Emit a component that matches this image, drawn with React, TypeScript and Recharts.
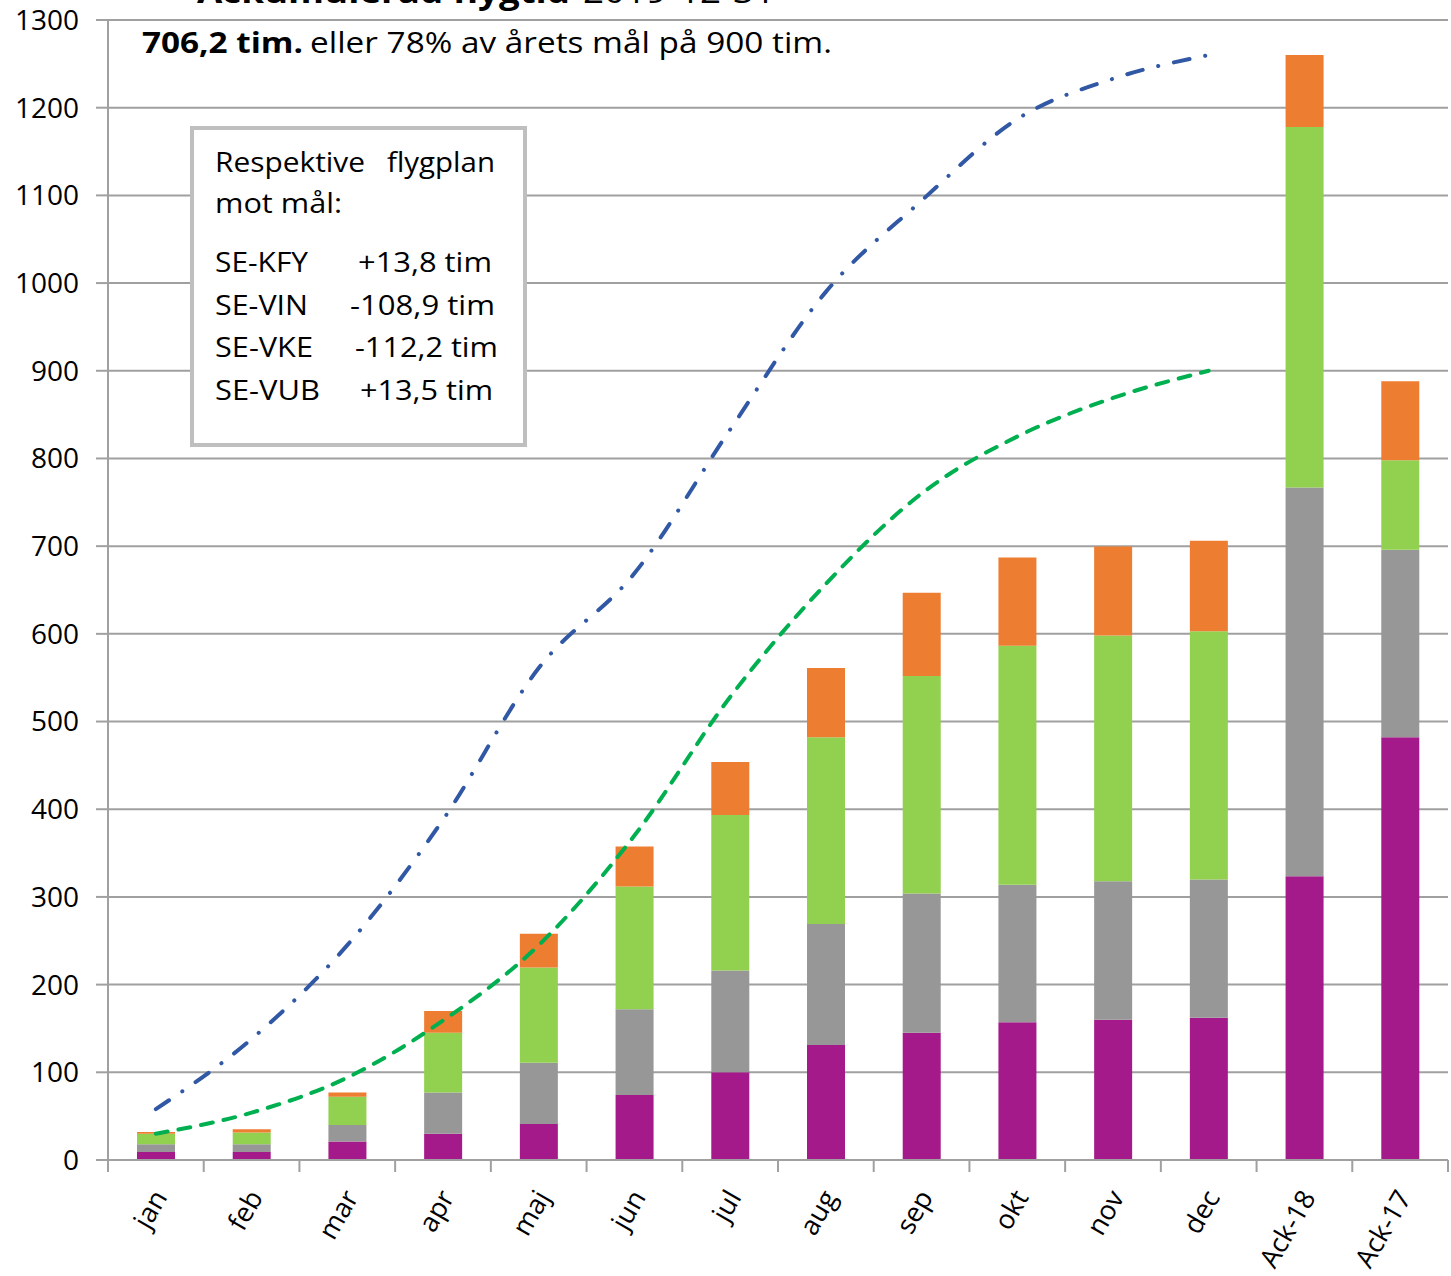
import { ComposedChart, Bar, Line, XAxis, YAxis, CartesianGrid } from 'recharts'

const categories = ['jan', 'feb', 'mar', 'apr', 'maj', 'jun', 'jul', 'aug', 'sep', 'okt', 'nov', 'dec', 'Ack-18', 'Ack-17']

// stacked per aircraft, cumulative hours (bottom to top)
const purpleHours = [9, 9, 21, 30, 41, 74, 100, 131, 145, 157, 160, 162.3, 323.5, 482]
const grayHours = [9, 9, 19, 47, 70, 98, 116, 138, 159, 157, 158, 157.7, 443.5, 214]
const greenHours = [12, 13.5, 32, 68, 108.5, 140, 177.5, 213, 248, 272.5, 280, 283, 411, 102]
const orangeHours = [2, 3.5, 5, 25, 38.5, 45.5, 60.5, 79, 95, 100.5, 101.5, 103.2, 82, 90]

// lines, months only
const ack18Line = [58, 138, 245, 388, 561, 669, 833, 990, 1094, 1187, 1233, 1260, null, null]
const goalLine = [30, 54, 94, 159, 245, 370, 528, 657, 760, 825, 869, 900, null, null]

const yTicks = [0, 100, 200, 300, 400, 500, 600, 700, 800, 900, 1000, 1100, 1200, 1300]

const chartData = categories.map((name, i) => ({
  name,
  purple: purpleHours[i],
  gray: grayHours[i],
  green: greenHours[i],
  orange: orangeHours[i],
  ack18: ack18Line[i],
  goal: goalLine[i],
}))

const W = 1451
const H = 1276
const margin = { top: 20, right: 3, left: 0, bottom: 0 }
const yAxisWidth = 108
const band = (W - margin.right - margin.left - yAxisWidth) / categories.length
const axisColor = '#a0a0a0'
const font = '"Open Sans", "Noto Sans", sans-serif'

function MonthTick(props: any) {
  const { x, y, payload, index } = props
  return (
    <g>
      <line x1={x - band / 2} y1={y} x2={x - band / 2} y2={y + 12} stroke={axisColor} strokeWidth={2} />
      {index === categories.length - 1 && (
        <line x1={x + band / 2} y1={y} x2={x + band / 2} y2={y + 12} stroke={axisColor} strokeWidth={2} />
      )}
      <text
        transform={`translate(${x + 3},${y + 32}) rotate(-60)`}
        textAnchor="end"
        dominantBaseline="central"
        fontSize={27}
        fontFamily={font}
        fill="#000"
      >
        {payload.value}
      </text>
    </g>
  )
}

// text with a fixed width, like the stretched labels in the original
function Fit({ x, y, w, anchor, children, bold }: any) {
  return (
    <text
      x={x}
      y={y}
      textAnchor={anchor || 'start'}
      textLength={w}
      lengthAdjust="spacingAndGlyphs"
      fontWeight={bold ? 'bold' : 'normal'}
    >
      {children}
    </text>
  )
}

export default function App() {
  return (
    <div style={{ position: 'relative', width: W, height: H, background: '#fff' }}>
      <style>{`body{margin:0}`}</style>
      <ComposedChart width={W} height={H} data={chartData} margin={margin}>
        <CartesianGrid vertical={false} stroke={axisColor} strokeWidth={2} />
        <XAxis
          dataKey="name"
          axisLine={{ stroke: axisColor, strokeWidth: 2 }}
          tickLine={false}
          tickSize={0}
          tickMargin={0}
          height={H - 1160}
          interval={0}
          tick={<MonthTick />}
        />
        <YAxis
          domain={[0, 1300]}
          ticks={yTicks}
          width={yAxisWidth}
          axisLine={{ stroke: axisColor, strokeWidth: 2 }}
          tickLine={{ stroke: axisColor, strokeWidth: 2 }}
          tickSize={12}
          tickMargin={17}
          tick={{ fontSize: 28, fontFamily: font, fill: '#000' }}
        />
        <Bar dataKey="purple" stackId="a" fill="#a51a8a" barSize={38} isAnimationActive={false} />
        <Bar dataKey="gray" stackId="a" fill="#979797" barSize={38} isAnimationActive={false} />
        <Bar dataKey="green" stackId="a" fill="#92d050" barSize={38} isAnimationActive={false} />
        <Bar dataKey="orange" stackId="a" fill="#ed7d31" barSize={38} isAnimationActive={false} />
        <Line
          type="monotone"
          dataKey="ack18"
          stroke="#3158a5"
          strokeWidth={4}
          strokeDasharray="16 16 0.1 16"
          strokeLinecap="round"
          dot={false}
          connectNulls={false}
          isAnimationActive={false}
        />
        <Line
          type="monotone"
          dataKey="goal"
          stroke="#00b050"
          strokeWidth={4}
          strokeDasharray="12 11"
          strokeLinecap="round"
          dot={false}
          connectNulls={false}
          isAnimationActive={false}
        />
      </ComposedChart>
      <svg
        width={W}
        height={H}
        style={{ position: 'absolute', left: 0, top: 0, pointerEvents: 'none' }}
        fontFamily={font}
      >
        <g fontSize={32} fill="#000">
          <Fit x={197} y={3} w={373} bold>Ackumulerad flygtid</Fit>
          <Fit x={583} y={3} w={192}>2019-12-31</Fit>
        </g>
        <g fontSize={29} fill="#000">
          <Fit x={142} y={53} w={161} bold>706,2 tim.</Fit>
          <Fit x={310} y={53} w={522}>eller 78% av årets mål på 900 tim.</Fit>
        </g>
        <rect x={192} y={128} width={333} height={317} fill="#fff" stroke="#bfbfbf" strokeWidth={4} />
        <g fontSize={28} fill="#000">
          <Fit x={215} y={172} w={150}>Respektive</Fit>
          <Fit x={495} y={172} w={108} anchor="end">flygplan</Fit>
          <Fit x={215} y={213} w={127}>mot mål:</Fit>
          <Fit x={215} y={272} w={93}>SE-KFY</Fit>
          <Fit x={492} y={272} w={134} anchor="end">+13,8 tim</Fit>
          <Fit x={215} y={315} w={93}>SE-VIN</Fit>
          <Fit x={495} y={315} w={145} anchor="end">-108,9 tim</Fit>
          <Fit x={215} y={357} w={98}>SE-VKE</Fit>
          <Fit x={498} y={357} w={143} anchor="end">-112,2 tim</Fit>
          <Fit x={215} y={400} w={105}>SE-VUB</Fit>
          <Fit x={493} y={400} w={133} anchor="end">+13,5 tim</Fit>
        </g>
      </svg>
    </div>
  )
}
